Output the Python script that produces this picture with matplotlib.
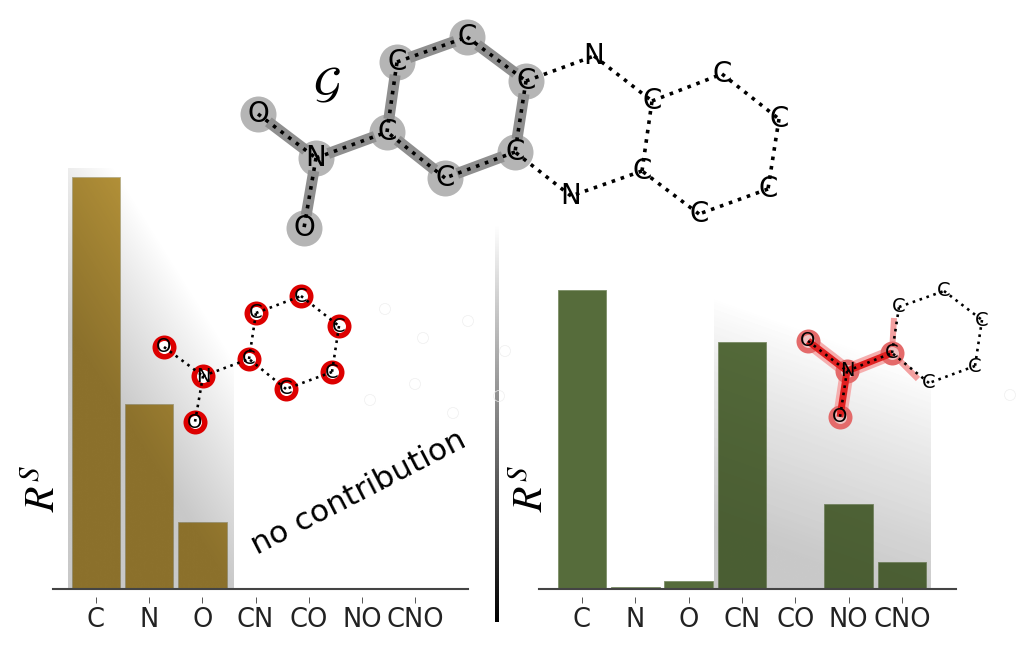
import matplotlib
matplotlib.use('Agg')
import matplotlib.pyplot as plt
import numpy as np

W, H = 1024, 662
categories = ['C', 'N', 'O', 'CN', 'CO', 'NO', 'CNO']
left_values = [1.0, 0.45, 0.163, 0, 0, 0, 0]
right_values = [1.0, 0.007, 0.027, 0.826, 0, 0.284, 0.09]

# molecule G (big one on top)
top_xy = [(258, 114), (316, 158), (304, 228), (387, 132), (397, 62), (467, 37), (526, 81),
          (515, 152), (445, 178), (594, 56), (652, 101), (722, 74), (779, 119), (768, 189),
          (699, 214), (642, 171), (571, 196)]
top_labels = ['O', 'N', 'O', 'C', 'C', 'C', 'C', 'C', 'C', 'N', 'C', 'C', 'C', 'C', 'C', 'C', 'N']
top_solid = [(0, 1), (1, 2), (1, 3), (3, 4), (4, 5), (5, 6), (6, 7), (7, 8), (8, 3)]
top_dotted = [(6, 9), (9, 10), (10, 11), (11, 12), (12, 13), (13, 14), (14, 15), (15, 10), (15, 16), (16, 7)]

# left sub graph, red atoms
left_xy = [(164, 347), (203, 376), (195, 422), (249, 359), (256, 313), (301, 296), (339, 326), (332, 372), (286, 389)]
left_labels = ['O', 'N', 'O', 'C', 'C', 'C', 'C', 'C', 'C']
left_bonds = [(0, 1), (1, 2), (1, 3), (3, 4), (4, 5), (5, 6), (6, 7), (7, 8), (8, 3)]
faded_xy = [(385, 309), (468, 321), (423, 338), (505, 351), (415, 384), (370, 400), (453, 413), (499, 396), (1010, 395)]

# right sub graph
right_xy = [(808, 341), (847, 371), (840, 417), (892, 353), (899, 307), (944, 291), (982, 320), (975, 366), (929, 383)]
right_labels = ['O', 'N', 'O', 'C', 'C', 'C', 'C', 'C', 'C']
right_red = [(0, 1), (1, 2), (1, 3)]
right_dotted = [(3, 4), (4, 5), (5, 6), (6, 7), (7, 8), (8, 3)]
right_stubs = [((892, 353), (894, 318)), ((892, 353), (918, 379))]

plt.rcParams['mathtext.fontset'] = 'stix'
px = 72 / 100  # 1 pixel in points

fig = plt.figure(figsize=(W / 100, H / 100), dpi=100)


def shade_left():
    u, v = np.meshgrid(np.linspace(0, 1, 300), np.linspace(0, 1, 300))
    s = np.clip(v - 0.63 * u + 0.18, 0, None)
    return 255 - 55 * np.minimum(1, (s / 0.55) ** 0.95)


def shade_right():
    x, y = np.meshgrid(np.linspace(714, 931, 300), np.linspace(295, 589, 300))
    s = np.clip(y - (295 + 0.355 * (x - 714)), 0, None)
    return 255 - 55 * np.minimum(1, (s / 230) ** 0.85)


def bar_panel(x0, x1, x_first, step, ymax, values, color, edge, shade, xr, yr, k):
    ax = fig.add_axes([x0 / W, (H - 589) / H, (x1 - x0) / W, 421 / H])
    ax.bar(range(7), values, width=0.91, color=color, edgecolor=edge, linewidth=0.6, zorder=2)
    ext = [(xr[0] - x_first) / step, (xr[1] - x_first) / step, yr[0], yr[1]]
    # k = how much of the shading comes through on the bars
    a = 1 - shade / 255
    under = np.zeros((300, 300, 4))
    under[..., 3] = 1 - (1 - a) / (1 - k * a)
    over = np.zeros((300, 300, 4))
    over[..., 3] = k * a
    ax.imshow(under, extent=ext, origin='upper', aspect='auto', zorder=1)
    ax.imshow(over, extent=ext, origin='upper', aspect='auto', zorder=3)
    ax.set_xlim((x0 - x_first) / step, (x1 - x_first) / step)
    ax.set_ylim(0, ymax)
    ax.patch.set_alpha(0)
    for s in ['top', 'left', 'right']:
        ax.spines[s].set_visible(False)
    ax.spines['bottom'].set_position(('outward', 8 * px))
    ax.spines['bottom'].set_visible(False)
    ax.axhline(0, color='#444444', lw=1.5, clip_on=False, zorder=4)
    ax.set_yticks([])
    ax.set_xticks(range(7))
    ax.set_xticklabels(categories, fontsize=18.5, color='#222222')
    ax.tick_params(axis='x', length=6 * px, width=0.7, color='#555555', pad=3)
    return ax


ax1 = bar_panel(53, 468, 96, 53.2, 421 / 412, left_values, '#b29038', '#b8b08a', shade_left(),
                (68, 234), (0, 421 / 412), 1.0)
ax2 = bar_panel(539, 956, 582, 53.33, 421 / 299, right_values, '#566c3b', '#7d8f68', shade_right(),
                (714, 931), (0, 294 / 299), 0.6)

# overlay in pixel coords for molecules and annotations
ov = fig.add_axes([0, 0, 1, 1], zorder=10)
ov.patch.set_alpha(0)
ov.axis('off')

ov.imshow(1 - np.linspace(0, 1, 256).reshape(-1, 1), extent=[494.5, 498, 622, 225], cmap='gray', vmin=0, vmax=1,
          origin='upper', aspect='auto', zorder=1)


def seg(points, a, b, **kw):
    ov.plot([points[a][0], points[b][0]], [points[a][1], points[b][1]], **kw)


def dots(points, bonds, lw, gap):
    for a, b in bonds:
        seg(points, a, b, color='black', lw=lw * px, ls=(0, (1, gap)), zorder=6)


# big molecule: circles first, bonds stop short of the atom centres
for i in range(9):
    ov.scatter(*top_xy[i], s=(36 * px) ** 2, color='#b5b5b5', linewidths=0, zorder=2.5)
for a, b in top_solid:
    p = np.array(top_xy[a], dtype=float)
    q = np.array(top_xy[b], dtype=float)
    d = (q - p) / np.hypot(*(q - p))
    ov.plot([p[0] + 13 * d[0], q[0] - 13 * d[0]], [p[1] + 13 * d[1], q[1] - 13 * d[1]], color='#8f8f8f',
            lw=11 * px, solid_capstyle='butt', zorder=3)
dots(top_xy, top_solid + top_dotted, 3.6, 1.64)
for (x, y), t in zip(top_xy, top_labels):
    ov.text(x, y, t, fontsize=20, ha='center', va='center', color='black', zorder=7)

# left small molecule, faded atoms are nearly invisible
for x, y in faded_xy:
    ov.scatter(x, y, s=(11 * px) ** 2, facecolor='none', edgecolor='#eeeeee', linewidths=0.5, zorder=2)
for x, y in left_xy:
    ov.scatter(x, y, s=(24 * px) ** 2, color='#dd0000', linewidths=0, zorder=3)
    ov.scatter(x, y, s=(13 * px) ** 2, color='white', linewidths=0, zorder=3.5)
dots(left_xy, left_bonds, 2.6, 1.8)
for (x, y), t in zip(left_xy, left_labels):
    ov.text(x, y, t, fontsize=14, ha='center', va='center', color='black', zorder=7)

# right small molecule
for a, b in right_red:
    seg(right_xy, a, b, color='#f5aeae', lw=14 * px, solid_capstyle='butt', zorder=3)
for p, q in right_stubs:
    ov.plot([p[0], q[0]], [p[1], q[1]], color='#f3a0a0', lw=6 * px, solid_capstyle='butt', zorder=3)
for a, b in right_red:
    seg(right_xy, a, b, color='#e02020', lw=7 * px, solid_capstyle='butt', zorder=3.2)
for i in range(4):
    ov.scatter(*right_xy[i], s=(24 * px) ** 2, color='#e46a6a', linewidths=0, zorder=3.1)
    ov.scatter(*right_xy[i], s=(13 * px) ** 2, color='#f0c0c0', linewidths=0, zorder=3.15)
dots(right_xy, right_red + right_dotted, 2.6, 1.8)
for (x, y), t in zip(right_xy, right_labels):
    ov.text(x, y, t, fontsize=14, ha='center', va='center', color='black', zorder=7)

ov.text(327, 85, r'$\mathcal{G}$', fontsize=32, ha='center', va='center', color='black', zorder=7)
ov.text(359, 493, 'no contribution', fontsize=22.4, rotation=27.4, rotation_mode='anchor',
        ha='center', va='center', color='black', zorder=7)
ov.text(43, 488, r'$R^{S}$', fontsize=30, rotation=90, ha='center', va='center', zorder=7)
ov.text(531, 488, r'$R^{S}$', fontsize=30, rotation=90, ha='center', va='center', zorder=7)

ov.set_xlim(0, W)
ov.set_ylim(H, 0)

fig.savefig('out.png', dpi=100)
